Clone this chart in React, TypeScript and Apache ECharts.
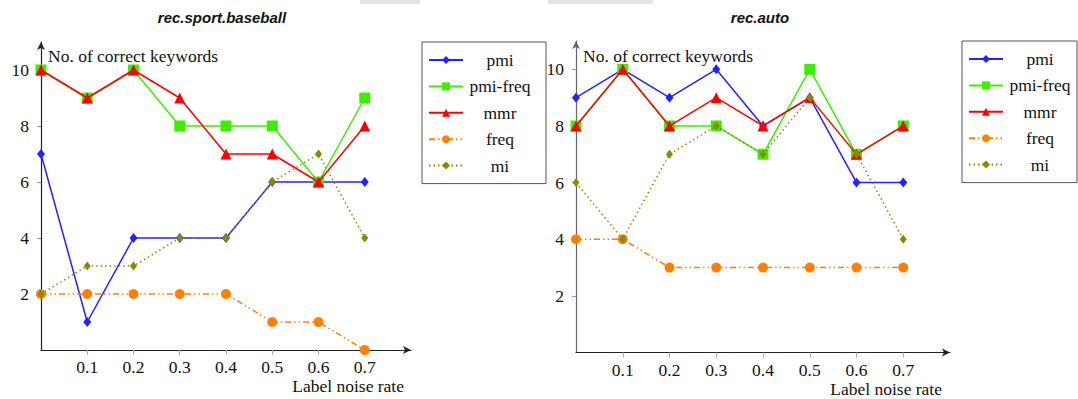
import React, { useEffect, useRef } from "react";
import * as echarts from "echarts";

// ---- data ----
const noiseRates = [0, 0.1, 0.2, 0.3, 0.4, 0.5, 0.6, 0.7];
const xTickValues = [0.1, 0.2, 0.3, 0.4, 0.5, 0.6, 0.7];
const yTickValues = [2, 4, 6, 8, 10];
const seriesNames = ["pmi", "pmi-freq", "mmr", "freq", "mi"];
const titles = ["rec.sport.baseball", "rec.auto"];
const yAxisTitle = "No. of correct keywords";
const xAxisTitle = "Label noise rate";

const baseballPmi = [7, 1, 4, 4, 4, 6, 6, 6];
const baseballPmiFreq = [10, 9, 10, 8, 8, 8, 6, 9];
const baseballMmr = [10, 9, 10, 9, 7, 7, 6, 8];
const baseballFreq = [2, 2, 2, 2, 2, 1, 1, 0];
const baseballMi = [2, 3, 3, 4, 4, 6, 7, 4];

const autoPmi = [9, 10, 9, 10, 8, 9, 6, 6];
const autoPmiFreq = [8, 10, 8, 8, 7, 10, 7, 8];
const autoMmr = [8, 10, 8, 9, 8, 9, 7, 8];
const autoFreq = [4, 4, 3, 3, 3, 3, 3, 3];
const autoMi = [6, 4, 7, 8, 7, 9, 7, 4];

const baseballValues = [baseballPmi, baseballPmiFreq, baseballMmr, baseballFreq, baseballMi];
const autoValues = [autoPmi, autoPmiFreq, autoMmr, autoFreq, autoMi];

// ---- styles ----
const SERIF = "'Liberation Serif', 'DejaVu Serif', serif";
const styles = [
  { color: "#2222ff", symbol: "diamond", symbolSize: [8, 10], dash: "solid" as any },
  { color: "#3cee00", symbol: "rect", symbolSize: 11, dash: "solid" as any },
  { color: "#ff0000", symbol: "triangle", symbolSize: 11, dash: "solid" as any },
  { color: "#ff8000", symbol: "circle", symbolSize: 10, dash: [6, 3, 1.5, 3, 1.5, 3] as any },
  { color: "#8a8a00", symbol: "diamond", symbolSize: [7, 9], dash: [1.5, 3] as any },
];

function buildSeries(values: number[][], gridIdx: number) {
  return values.map((vals, i) => ({
    name: seriesNames[i],
    type: "line",
    xAxisIndex: gridIdx,
    yAxisIndex: gridIdx,
    data: vals.map((v, j) => [noiseRates[j], v]),
    symbol: styles[i].symbol,
    symbolSize: styles[i].symbolSize,
    showSymbol: true,
    clip: false,
    z: 2 + i,
    lineStyle: { color: styles[i].color, width: 1.5, type: styles[i].dash },
    itemStyle: { color: styles[i].color },
    emphasis: { disabled: true },
  }));
}

function xAxis(gridIdx: number) {
  return {
    type: "value",
    gridIndex: gridIdx,
    min: 0,
    max: 0.8,
    interval: 0.1,
    splitLine: { show: false },
    axisLine: {
      onZero: false,
      symbol: ["none", "arrow"],
      symbolSize: [6, 8],
      lineStyle: { color: "#222", width: 1.2 },
    },
    axisTick: { show: true, length: 5, lineStyle: { color: "#aaa" }, customValues: xTickValues },
    axisLabel: {
      customValues: xTickValues,
      margin: 8,
      fontFamily: SERIF,
      fontSize: 17.5,
      color: "#111",
      formatter: (v: number) => v.toFixed(1),
    },
  };
}

function yAxis(gridIdx: number, lineColor: string) {
  return {
    type: "value",
    gridIndex: gridIdx,
    min: 0,
    max: 11,
    interval: 1,
    splitLine: { show: false },
    axisLine: {
      onZero: false,
      symbol: ["none", "arrow"],
      symbolSize: [6, 8],
      lineStyle: { color: lineColor, width: 1.2 },
    },
    axisTick: { show: true, length: 4, lineStyle: { color: "#999" }, customValues: yTickValues },
    axisLabel: {
      customValues: yTickValues,
      margin: 12,
      fontFamily: SERIF,
      fontSize: 17.5,
      color: "#111",
    },
  };
}

function legend(left: number, top: number, padRight: number) {
  return {
    orient: "vertical",
    left,
    top,
    padding: [9, padRight, 9, 6],
    itemGap: 8.4,
    itemWidth: 34,
    itemHeight: 10,
    itemTextGap: 3,
    borderColor: "#555",
    borderWidth: 1,
    selectedMode: false,
    data: seriesNames,
    formatter: "{c|{name}}",
    textStyle: {
      fontFamily: SERIF,
      fontSize: 17.5,
      lineHeight: 14,
      color: "#111",
      rich: { c: { width: 64, align: "center", lineHeight: 14, fontFamily: SERIF, fontSize: 17.5, color: "#111" } },
    },
  };
}

export default function App() {
  const ref = useRef<HTMLDivElement>(null);
  useEffect(() => {
    if (!ref.current) return;
    const chart = echarts.init(ref.current, undefined, { renderer: "svg" });
    const titleStyle = {
      fontFamily: "'Liberation Sans', Arial, sans-serif",
      fontStyle: "italic",
      fontWeight: "bold",
      fontSize: 15,
      color: "#111",
    };
    const option: any = {
      animation: false,
      backgroundColor: "#ffffff",
      title: [
        { text: titles[0], left: 217, top: 5, textAlign: "center", textStyle: titleStyle },
        { text: titles[1], left: 755, top: 5, textAlign: "center", textStyle: titleStyle },
      ],
      grid: [
        { left: 41, top: 42, width: 370, height: 308 },
        { left: 576, top: 41, width: 374, height: 311.5 },
      ],
      xAxis: [xAxis(0), xAxis(1)],
      yAxis: [yAxis(0, "#222"), yAxis(1, "#666")],
      legend: [legend(422, 42, 14), legend(962, 41, 5)],
      graphic: [
        { type: "rect", shape: { x: 360, y: 0, width: 60, height: 4 }, style: { fill: "#e4e4e4" }, silent: true },
        { type: "rect", shape: { x: 548, y: 0, width: 105, height: 4 }, style: { fill: "#e4e4e4" }, silent: true },
        { type: "text", left: 48, top: 47, style: { text: yAxisTitle, font: `17.5px ${SERIF}`, fill: "#111" } },
        { type: "text", left: 583, top: 47, style: { text: yAxisTitle, font: `17.5px ${SERIF}`, fill: "#111" } },
        { type: "text", right: 1078 - 404, top: 377, style: { text: xAxisTitle, font: `17.5px ${SERIF}`, fill: "#111" } },
        { type: "text", right: 1078 - 942, top: 380, style: { text: xAxisTitle, font: `17.5px ${SERIF}`, fill: "#111" } },
      ],
      series: [...buildSeries(baseballValues, 0), ...buildSeries(autoValues, 1)],
    };
    chart.setOption(option);
    return () => chart.dispose();
  }, []);
  return <div ref={ref} style={{ position: "fixed", left: 0, top: 0, width: 1078, height: 399 }} />;
}
